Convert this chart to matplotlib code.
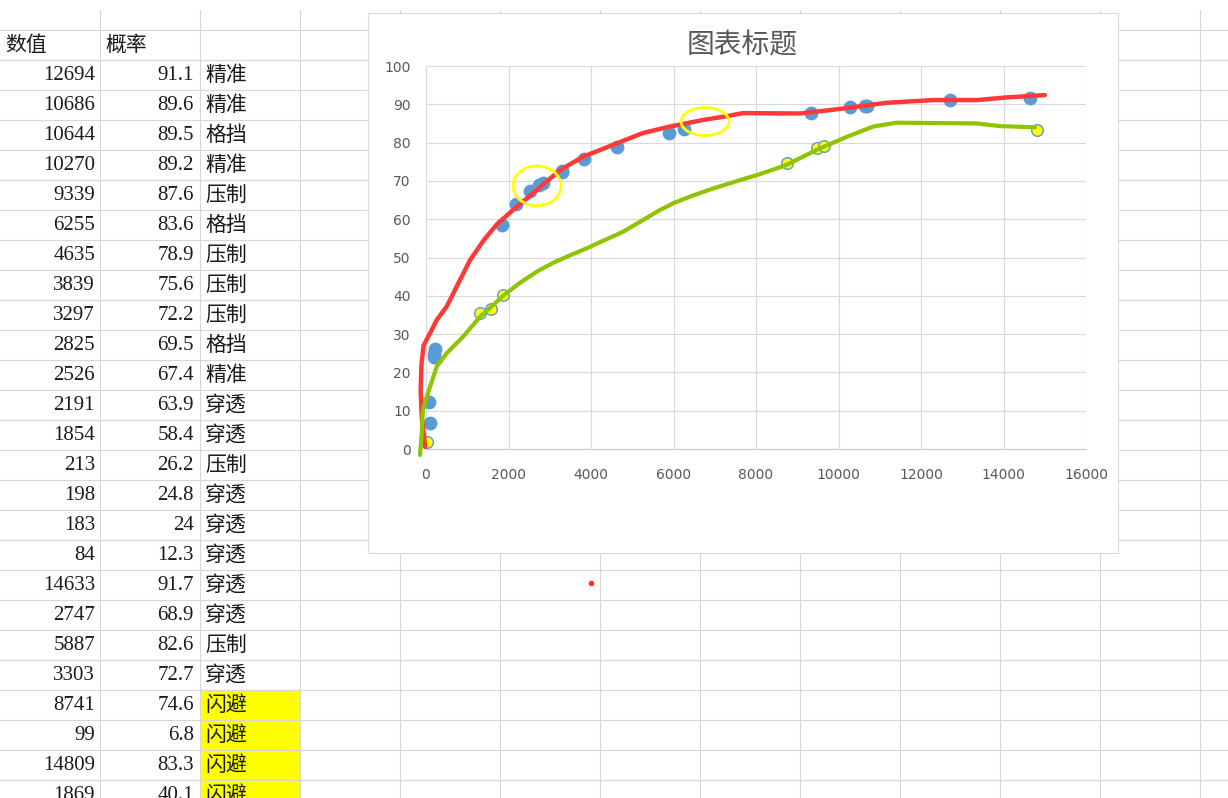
import matplotlib
matplotlib.use('Agg')
import matplotlib.pyplot as plt
from matplotlib.patches import Rectangle, Ellipse

plt.rcParams['font.family'] = ['DejaVu Sans', 'Noto Sans CJK SC']

# spreadsheet columns
header = ['数值', '概率']
values = [12694, 10686, 10644, 10270, 9339, 6255, 4635, 3839, 3297, 2825, 2526,
          2191, 1854, 213, 198, 183, 84, 14633, 2747, 5887, 3303, 8741, 99, 14809, 1869]
probs = [91.1, 89.6, 89.5, 89.2, 87.6, 83.6, 78.9, 75.6, 72.2, 69.5, 67.4,
         63.9, 58.4, 26.2, 24.8, 24, 12.3, 91.7, 68.9, 82.6, 72.7, 74.6, 6.8, 83.3, 40.1]
kinds = ['精准', '精准', '格挡', '精准', '压制', '格挡', '压制', '压制', '压制', '格挡', '精准',
         '穿透', '穿透', '压制', '穿透', '穿透', '穿透', '穿透', '穿透', '压制', '穿透',
         '闪避', '闪避', '闪避', '闪避']

# chart points
blue_x = [12694, 10686, 10644, 10270, 9339, 6255, 4635, 3839, 3297, 2825, 2526,
          2191, 1854, 213, 198, 183, 84, 14633, 2747, 5887, 3303, 99]
blue_y = [91.1, 89.6, 89.5, 89.2, 87.6, 83.6, 78.9, 75.6, 72.2, 69.5, 67.4,
          63.9, 58.4, 26.2, 24.8, 24, 12.3, 91.7, 68.9, 82.6, 72.7, 6.8]
yellow_x = [20, 1309, 1568, 1869, 8741, 9470, 9648, 14809]
yellow_y = [1.8, 35.5, 36.6, 40.1, 74.6, 78.7, 79.1, 83.3]

# hand drawn curves
red_x = [-20, -100, -130, -110, -60, 100, 260, 502, 776, 1067, 1406, 1721, 2109,
         2683, 3248, 3806, 4623, 5260, 5915, 6714, 7289, 7684, 9066, 10035, 11167,
         12290, 13349, 14076, 15005]
red_y = [0.5, 8, 15, 22, 27, 30.3, 33.7, 37.2, 43.1, 49.3, 54.6, 58.7, 62.4,
         67.6, 72.8, 76.3, 79.8, 82.5, 84.2, 85.9, 86.9, 87.7, 87.6, 88.8, 90.4,
         91.1, 91.1, 91.8, 92.4]
green_x = [-145, -104, -73, 48, 259, 502, 897, 1309, 1600, 1869, 2279, 2700, 3079,
           3500, 3895, 4300, 4775, 5200, 5672, 6000, 6399, 6900, 7369, 8016, 8702,
           9100, 9470, 10198, 10843, 11409, 13349, 13914, 14762]
green_y = [-1.6, 4.2, 10.2, 14.6, 21.5, 25, 29.3, 34.5, 37.3, 40.0, 43.4, 46.4, 48.6,
           50.6, 52.4, 54.4, 56.7, 59.4, 62.4, 64.2, 65.9, 67.8, 69.4, 71.5, 74,
           76.1, 78.1, 81.5, 84.2, 85.2, 85, 84.3, 84]

fig = plt.figure(figsize=(12.28, 7.98), dpi=100)

# sheet background in pixel coords
bg = fig.add_axes([0, 0, 1, 1])
bg.set_xlim(0, 1228)
bg.set_ylim(798, 0)
bg.axis('off')

grid_c = '#D6D6D6'
for k in range(12):
    bg.plot([99.5 + 100 * k] * 2, [10, 798], color=grid_c, lw=0.8, zorder=2)
for k in range(26):
    bg.plot([0, 1228], [29.5 + 30 * k] * 2, color=grid_c, lw=0.8, zorder=2)

bg.text(5, 45, header[0], ha='left', va='center', fontsize=15,
        family=['Noto Sans CJK SC'], color='#1a1a1a', zorder=3)
bg.text(105, 45, header[1], ha='left', va='center', fontsize=15,
        family=['Noto Sans CJK SC'], color='#1a1a1a', zorder=3)

for i, (v, p, k) in enumerate(zip(values, probs, kinds)):
    yc = 75 + 30 * i
    if k == '闪避':
        bg.add_patch(Rectangle((199.5, yc - 15), 100, 30, facecolor='#FFFF00',
                               edgecolor='none', zorder=1))
    bg.text(95, yc, str(v), ha='right', va='center', fontsize=15,
            family=['Liberation Serif'], color='#1a1a1a', zorder=3)
    bg.text(194, yc, '%g' % p, ha='right', va='center', fontsize=15,
            family=['Liberation Serif'], color='#1a1a1a', zorder=3)
    bg.text(205, yc, k, ha='left', va='center', fontsize=15,
            family=['Noto Sans CJK SC'], color='#1a1a1a', zorder=3)

# chart box
bg.add_patch(Rectangle((367.7, 12.7), 750, 540, facecolor='white',
                       edgecolor='#D9D9D9', lw=0.8, zorder=4))
bg.text(742, 45, '图表标题', ha='center', va='center', fontsize=20,
        family=['Noto Sans CJK SC'], color='#595959', zorder=5)
bg.plot(591, 582.7, 'o', color='#FF3333', ms=3, zorder=5)

# plot area
ax = fig.add_axes([426 / 1228, 1 - 449 / 798, 660 / 1228, 383 / 798])
ax.patch.set_alpha(0)
ax.scatter(blue_x, blue_y, s=80, color='#5B9BD5', zorder=3, clip_on=False)
ax.scatter(yellow_x, yellow_y, s=70, facecolor='#FFFF00', edgecolor='#5B9BD5',
           linewidth=1, zorder=3, clip_on=False)
ax.plot(red_x, red_y, color='#FF3838', lw=3.2, solid_capstyle='round',
        solid_joinstyle='round', zorder=4, clip_on=False)
ax.plot(green_x, green_y, color='#8FC400', lw=3.0, solid_capstyle='round',
        solid_joinstyle='round', zorder=4, clip_on=False)

ax.add_patch(Ellipse((2691, 68.7), 1164, 10.4, fill=False, edgecolor='#FFFF00',
                     lw=2, zorder=5, clip_on=False))
ax.add_patch(Ellipse((6764, 85.5), 1164, 7.3, fill=False, edgecolor='#FFFF00',
                     lw=2, zorder=5, clip_on=False))

ax.set_xlim(0, 16000)
ax.set_ylim(0, 100)
ax.set_xticks(range(0, 16001, 2000))
ax.set_yticks(range(0, 101, 10))
ax.grid(True, color='#D9D9D9', lw=0.8)
ax.set_axisbelow(True)
for s in ['top', 'right', 'left']:
    ax.spines[s].set_visible(False)
ax.spines['bottom'].set_color('#C8C8C8')
ax.spines['bottom'].set_linewidth(0.8)
ax.tick_params(length=0, labelsize=10, labelcolor='#595959')
ax.tick_params(axis='x', pad=14)
ax.tick_params(axis='y', pad=11)

fig.savefig('out.png', dpi=100)
